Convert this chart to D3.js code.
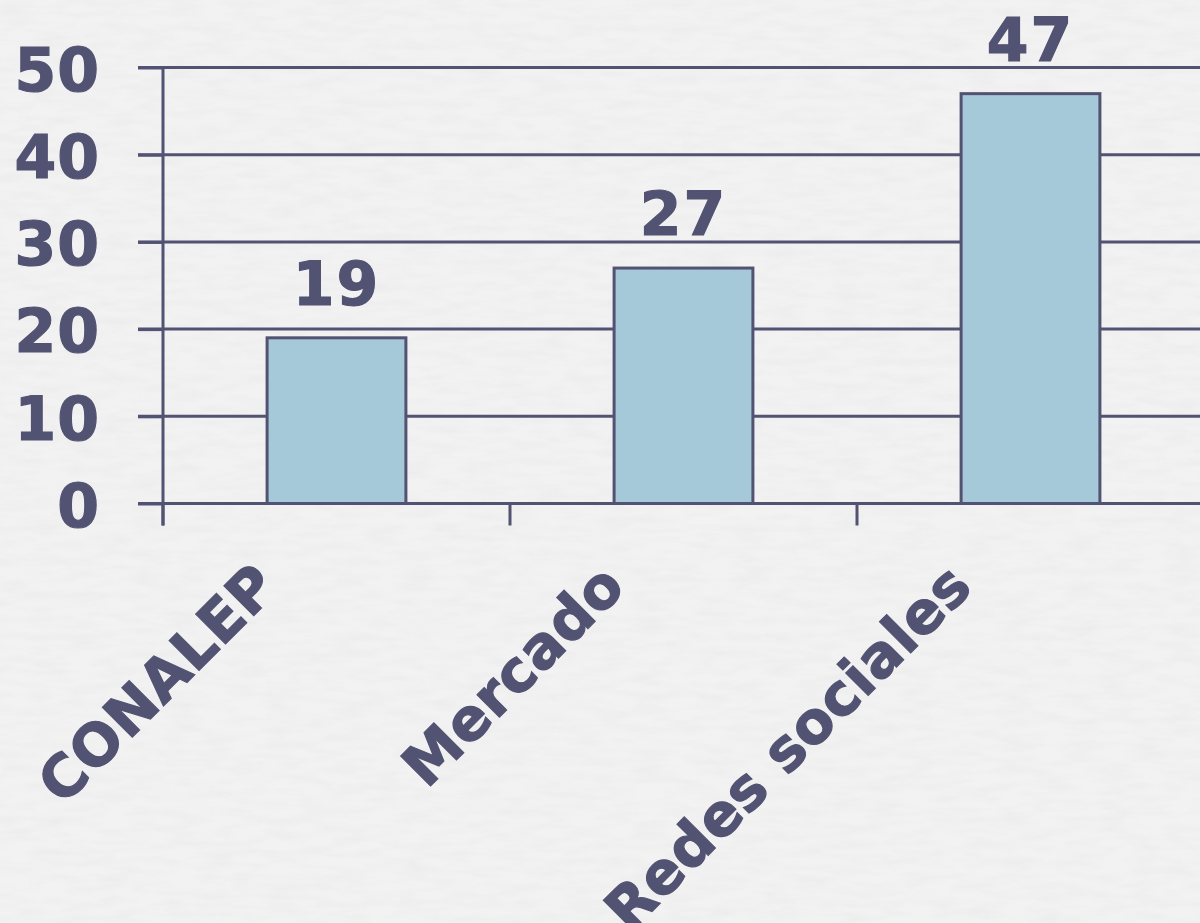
<!DOCTYPE html>
<html>
<head>
<meta charset="utf-8">
<script src="https://cdn.jsdelivr.net/npm/d3@7"></script>
<style>
  html, body { margin: 0; padding: 0; background: #efeff0; overflow: hidden; }
  svg { display: block; }
</style>
</head>
<body>
<svg id="chart" width="1200" height="923"></svg>
<script>
// Bar chart: counts by source, y 0–50
const categories = ["CONALEP", "Mercado", "Redes sociales"];
const values     = [19, 27, 47];
const yTicks     = [0, 10, 20, 30, 40, 50];

const INK  = "#525272";
const BAR  = "#a6c9d9";
const FONT = "'DejaVu Sans', Verdana, sans-serif";

const svg = d3.select("#chart");
const W = 1200, H = 923;
const x0 = 163, x1 = 1204;      // plot spans past the right edge, as in the slide
const yTop = 67.5, yBot = 503.5;

// paper-ish texture, kept faint
const defs = svg.append("defs");
const f = defs.append("filter").attr("id", "paper")
  .attr("x", 0).attr("y", 0).attr("width", "100%").attr("height", "100%");
f.append("feTurbulence").attr("type", "fractalNoise")
  .attr("baseFrequency", "0.03 0.12").attr("numOctaves", 4).attr("seed", 11);
f.append("feColorMatrix").attr("type", "matrix")
  .attr("values", "0 0 0 0 0.6  0 0 0 0 0.6  0 0 0 0 0.62  0 0 0 -1.4 0.9");
f.append("feComposite").attr("in2", "SourceGraphic").attr("operator", "in");

svg.append("rect").attr("width", W).attr("height", H).attr("fill", "#f2f2f3");
svg.append("rect").attr("width", W).attr("height", H).attr("fill", "#f2f2f3")
  .attr("filter", "url(#paper)").attr("opacity", 0.18);

const x = d3.scaleBand().domain(categories).range([x0, x1])
  .paddingInner(0.6).paddingOuter(0.3);
const y = d3.scaleLinear().domain([0, 50]).range([yBot, yTop]);

// gridlines (start at the tick stubs left of the axis)
svg.append("g")
  .selectAll("line").data(yTicks).join("line")
  .attr("x1", x0 - 25).attr("x2", W)
  .attr("y1", d => y(d)).attr("y2", d => y(d))
  .attr("stroke", INK).attr("stroke-width", 3);

// y axis
const yAxis = svg.append("g")
  .attr("transform", "translate(" + x0 + ",0)")
  .call(d3.axisLeft(y).tickValues(yTicks).tickSize(25).tickPadding(38));
yAxis.select(".domain").remove();
yAxis.selectAll(".tick line").attr("stroke", INK).attr("stroke-width", 3);
yAxis.selectAll(".tick text")
  .attr("fill", INK).attr("stroke", INK).attr("stroke-width", 1.2)
  .attr("font-family", FONT).attr("font-weight", "bold")
  .attr("font-size", 60).attr("dy", "0.38em").attr("letter-spacing", 1);

// vertical axis line, runs down past the baseline
svg.append("line")
  .attr("x1", x0).attr("x2", x0).attr("y1", yTop).attr("y2", yBot + 22)
  .attr("stroke", INK).attr("stroke-width", 3);

// category boundary ticks below the baseline
const step = x.step();
const bounds = d3.range(categories.length + 1).map(i => x0 + i * step);
svg.append("g")
  .selectAll("line").data(bounds).join("line")
  .attr("x1", d => d).attr("x2", d => d)
  .attr("y1", yBot).attr("y2", yBot + 22)
  .attr("stroke", INK).attr("stroke-width", 3);

// bars
svg.append("g")
  .selectAll("rect").data(values).join("rect")
  .attr("x", (d, i) => x(categories[i]))
  .attr("y", d => y(d))
  .attr("width", x.bandwidth())
  .attr("height", d => y(0) - y(d))
  .attr("fill", BAR).attr("stroke", INK).attr("stroke-width", 3);

// value labels
svg.append("g")
  .selectAll("text").data(values).join("text")
  .attr("x", (d, i) => x(categories[i]) + x.bandwidth() / 2)
  .attr("y", d => y(d) - 33)
  .attr("text-anchor", "middle")
  .attr("fill", INK).attr("stroke", INK).attr("stroke-width", 1.2)
  .attr("font-family", FONT).attr("font-weight", "bold")
  .attr("font-size", 60).attr("letter-spacing", 2)
  .text(d => d);

// rotated category labels
svg.append("g")
  .selectAll("text").data(categories).join("text")
  .attr("transform", d => {
    const cx = x(d) + x.bandwidth() / 2 - 56;
    return "translate(" + cx + "," + 589 + ") rotate(-45)";
  })
  .attr("text-anchor", "end")
  .attr("fill", INK).attr("stroke", INK).attr("stroke-width", 1.2)
  .attr("font-family", FONT).attr("font-weight", "bold")
  .attr("font-size", 58).attr("letter-spacing", 0.5)
  .text(d => d);
</script>
</body>
</html>
